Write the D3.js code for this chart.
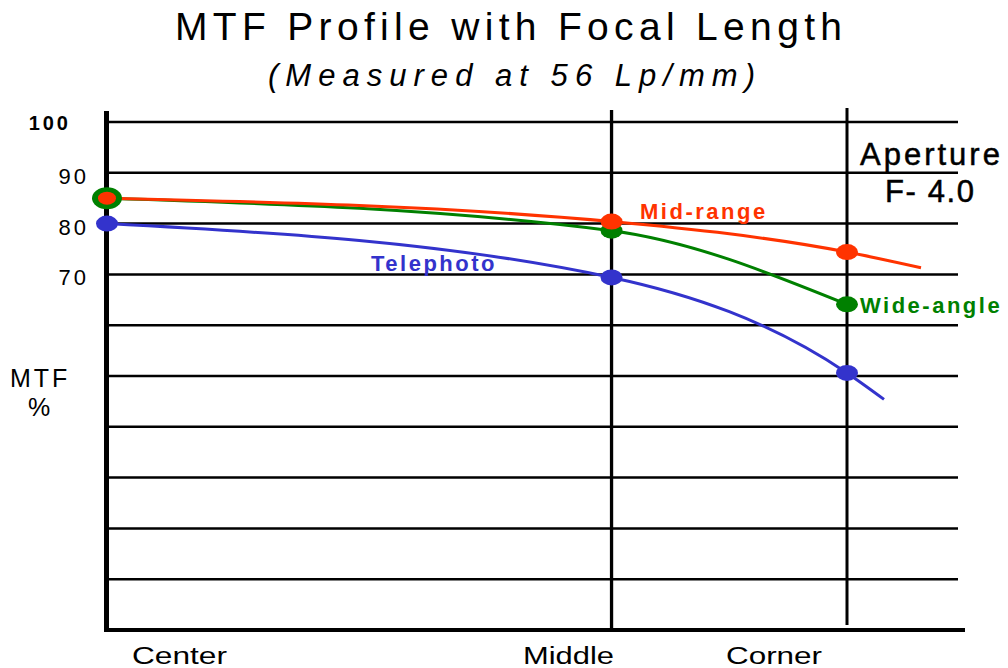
<!DOCTYPE html>
<html>
<head>
<meta charset="utf-8">
<script src="https://cdn.jsdelivr.net/npm/d3@7"></script>
<style>
  body { margin: 0; background: #fff; }
  text { font-family: "Liberation Sans", Arial, sans-serif; }
</style>
</head>
<body>
<div id="chart"></div>
<script>
// positions across the frame (Center, Middle, Corner)
const positions = [0, 15, 22];
const positionLabels = ["Center", "Middle", "Corner"];

// MTF % at each position
const midRange = [85, 80.4, 74.4];
const wideAngle = [85, 78.6, 64.1];
const telephoto = [80, 69.4, 50.6];

// curve continues a little past the corner (no marker)
const midRangeTail = [24.2, 71.3];
const telephotoTail = [23.1, 45.4];

const gridValues = [10, 20, 30, 40, 50, 60, 70, 80, 90, 100];
const yTickValues = [100, 90, 80, 70];

const width = 1008, height = 668;

const svg = d3.select("#chart")
    .append("svg")
    .attr("width", width)
    .attr("height", height);

const x = d3.scaleLinear().domain([0, 25.3]).range([107, 958]);
const y = d3.scaleLinear().domain([0, 100]).range([630, 122]);

// title
svg.append("text")
    .attr("x", 175).attr("y", 40)
    .attr("textLength", 667).attr("lengthAdjust", "spacing")
    .attr("font-size", 39)
    .text("MTF Profile with Focal Length");
svg.append("text")
    .attr("x", 268).attr("y", 86)
    .attr("textLength", 487).attr("lengthAdjust", "spacing")
    .attr("font-size", 31)
    .attr("font-style", "italic")
    .text("(Measured at 56 Lp/mm)");

// horizontal grid
svg.append("g")
    .selectAll("line")
    .data(gridValues)
    .enter()
    .append("line")
    .attr("x1", x(0))
    .attr("x2", x.range()[1])
    .attr("y1", d => y(d))
    .attr("y2", d => y(d))
    .attr("stroke", "#000")
    .attr("stroke-width", 2.5);

// vertical lines at Middle and Corner
svg.append("line")
    .attr("x1", x(positions[1])).attr("x2", x(positions[1]))
    .attr("y1", y(100) - 12).attr("y2", y(0) + 2)
    .attr("stroke", "#000").attr("stroke-width", 3.3);
svg.append("line")
    .attr("x1", x(positions[2])).attr("x2", x(positions[2]))
    .attr("y1", y(100) - 14).attr("y2", y(0) - 5)
    .attr("stroke", "#000").attr("stroke-width", 3);

// axes
svg.append("line")
    .attr("x1", x(0) - 0.5).attr("x2", x(0) - 0.5)
    .attr("y1", y(100) - 11).attr("y2", y(0) + 2)
    .attr("stroke", "#000").attr("stroke-width", 5);
svg.append("line")
    .attr("x1", x(0) - 3).attr("x2", x.range()[1] + 7)
    .attr("y1", y(0)).attr("y2", y(0))
    .attr("stroke", "#000").attr("stroke-width", 4);

// y tick labels
svg.append("g")
    .selectAll("text")
    .data(yTickValues)
    .enter()
    .append("text")
    .attr("x", d => d === 100 ? 71 : 89)
    .attr("y", d => y(d) + (d === 100 ? 8 : 11))
    .attr("text-anchor", "end")
    .attr("font-size", d => d === 100 ? 20 : 22)
    .attr("font-weight", d => d === 100 ? "bold" : "normal")
    .attr("letter-spacing", 3)
    .text(d => d);

svg.append("text")
    .attr("x", 10).attr("y", 387)
    .attr("font-size", 25).attr("letter-spacing", 3)
    .text("MTF");
svg.append("text")
    .attr("x", 28).attr("y", 416)
    .attr("font-size", 25)
    .text("%");

// x labels
const xLabelStart = [132, 523, 726];
svg.append("g")
    .selectAll("text")
    .data(positionLabels)
    .enter()
    .append("text")
    .attr("x", (d, i) => xLabelStart[i])
    .attr("y", 664)
    .attr("font-size", 23)
    .attr("textLength", (d, i) => [95, 91, 96][i])
    .attr("lengthAdjust", "spacingAndGlyphs")
    .text(d => d);

// Aperture note
svg.append("text")
    .attr("x", 860).attr("y", 165)
    .attr("font-size", 31).attr("letter-spacing", 3)
    .attr("stroke", "#000").attr("stroke-width", 0.5)
    .text("Aperture");
svg.append("text")
    .attr("x", 885).attr("y", 202)
    .attr("font-size", 31).attr("letter-spacing", 1.6)
    .attr("stroke", "#000").attr("stroke-width", 0.5)
    .text("F- 4.0");

// series
const series = [
    { name: "Telephoto", values: telephoto, tail: telephotoTail, color: "#3333cc" },
    { name: "Wide-angle", values: wideAngle, tail: null, color: "#008000" },
    { name: "Mid-range", values: midRange, tail: midRangeTail, color: "#ff3300" }
];

const line = d3.line()
    .x(d => x(d[0]))
    .y(d => y(d[1]))
    .curve(d3.curveMonotoneX);

series.forEach(function (s) {
    const pts = positions.map((p, i) => [p, s.values[i]]);
    if (s.tail) pts.push(s.tail);
    svg.append("path")
        .datum(pts)
        .attr("d", line)
        .attr("fill", "none")
        .attr("stroke", s.color)
        .attr("stroke-width", 3);
});

// markers: green first so red sits on top at the center
const markerOrder = [series[1], series[2], series[0]];
markerOrder.forEach(function (s) {
    svg.append("g")
        .selectAll("ellipse")
        .data(s.values)
        .enter()
        .append("ellipse")
        .attr("cx", (d, i) => x(positions[i]))
        .attr("cy", d => y(d))
        .attr("rx", (d, i) => i === 0 && s.name === "Wide-angle" ? 15 : (i === 0 && s.name === "Mid-range" ? 9 : 11))
        .attr("ry", (d, i) => i === 0 && s.name === "Wide-angle" ? 11 : (i === 0 && s.name === "Mid-range" ? 6.5 : 8))
        .attr("fill", s.color);
});

// series labels
const seriesLabels = [
    { text: "Mid-range", color: "#ff3300", x: 640, y: 219 },
    { text: "Telephoto", color: "#3333cc", x: 371, y: 271 },
    { text: "Wide-angle", color: "#008000", x: 860, y: 313 }
];
svg.append("g")
    .selectAll("text")
    .data(seriesLabels)
    .enter()
    .append("text")
    .attr("x", d => d.x)
    .attr("y", d => d.y)
    .attr("fill", d => d.color)
    .attr("font-size", 22)
    .attr("font-weight", "bold")
    .attr("letter-spacing", 2.5)
    .text(d => d.text);
</script>
</body>
</html>
